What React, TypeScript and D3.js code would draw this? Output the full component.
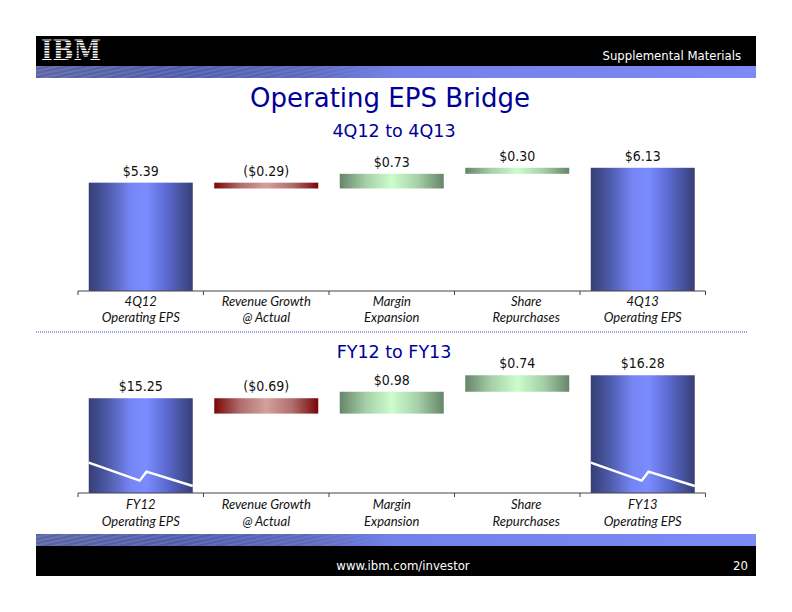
import React from "react";
import * as d3 from "d3";

const categoriesTop: string[][] = [
  ["4Q12", "Operating EPS"],
  ["Revenue Growth", "@ Actual"],
  ["Margin", "Expansion"],
  ["Share", "Repurchases"],
  ["4Q13", "Operating EPS"],
];
const categoriesBottom: string[][] = [
  ["FY12", "Operating EPS"],
  ["Revenue Growth", "@ Actual"],
  ["Margin", "Expansion"],
  ["Share", "Repurchases"],
  ["FY13", "Operating EPS"],
];
const valuesTop = [5.39, -0.29, 0.73, 0.3, 6.13];
const valuesBottom = [15.25, -0.69, 0.98, 0.74, 16.28];
const kinds = ["total", "neg", "pos", "pos", "total"];

const fmt = (v: number) => (v < 0 ? `($${Math.abs(v).toFixed(2)})` : `$${v.toFixed(2)}`);

const VALUE_FONT = "'DejaVu Sans Condensed', 'DejaVu Sans', sans-serif";
const TITLE_FONT = "'DejaVu Sans', sans-serif";
const CAT_FONT = "Lato, 'Liberation Sans', sans-serif";

type ChartProps = {
  cats: string[][];
  vals: number[];
  y: d3.ScaleLinear<number, number>;
  axisY: number;
  label1Y: number;
  label2Y: number;
  brokenAxis: boolean;
};

function Bridge({ cats, vals, y, axisY, label1Y, label2Y, brokenAxis }: ChartProps) {
  const x = d3
    .scaleBand<number>()
    .domain(d3.range(vals.length))
    .range([78, 705.5])
    .paddingInner(0.1713)
    .paddingOuter(0.0857);
  const step = x.step();
  const base = y.domain()[0];
  let running = 0;
  const bars = vals.map((v, i) => {
    let y0: number, y1: number;
    if (kinds[i] === "total") {
      y0 = base;
      y1 = v;
      running = v;
    } else {
      y0 = running;
      y1 = running + v;
      running = running + v;
    }
    const top = y(Math.max(y0, y1));
    const bottom = y(Math.min(y0, y1));
    return { i, v, top, bottom, kind: kinds[i] };
  });
  const ticks = d3.range(vals.length + 1).map((k) => 78 + k * step);
  return (
    <g>
      {bars.map((b) => {
        const x0 = x(b.i)!;
        const w = x.bandwidth();
        const fill =
          b.kind === "total" ? "url(#gBlue)" : b.kind === "neg" ? "url(#gRed)" : "url(#gGreen)";
        return (
          <g key={b.i}>
            <rect x={x0} y={b.top} width={w} height={b.bottom - b.top} fill={fill} />
            {brokenAxis && b.kind === "total" && (
              <polyline
                points={[
                  [x0, axisY - 30.3],
                  [x0 + w * 0.49, axisY - 12.3],
                  [x0 + w * 0.555, axisY - 21.3],
                  [x0 + w, axisY - 7],
                ]
                  .map((p) => p.join(","))
                  .join(" ")}
                fill="none"
                stroke="#ffffff"
                strokeWidth={2.4}
              />
            )}
            <text
              x={x0 + w / 2}
              y={b.top - 7}
              textAnchor="middle"
              fontFamily={VALUE_FONT}
              fontSize={14}
              fill="#111"
            >
              {fmt(b.v)}
            </text>
          </g>
        );
      })}
      <line x1={78} x2={705.5} y1={axisY} y2={axisY} stroke="#444" strokeWidth={1} />
      {ticks.map((t, k) => (
        <line key={k} x1={t} x2={t} y1={axisY} y2={axisY + 4} stroke="#444" strokeWidth={1} />
      ))}
      {cats.map((c, i) => {
        const cx = x(i)! + x.bandwidth() / 2 + (i === 3 ? 9 : 0);
        return (
          <text
            key={i}
            textAnchor="middle"
            fontFamily={CAT_FONT}
            fontStyle="italic"
            fontSize={13}
            fill="#111"
          >
            <tspan x={cx} y={label1Y}>
              {c[0]}
            </tspan>
            <tspan x={cx} y={label2Y}>
              {c[1]}
            </tspan>
          </text>
        );
      })}
    </g>
  );
}

function Band({ y }: { y: number }) {
  return (
    <g>
      <rect x={36} y={y} width={720} height={12} fill="url(#gBand)" />
      <rect x={36} y={y} width={720} height={12} fill="url(#pBand)" mask="url(#mBand)" />
    </g>
  );
}

export default function App() {
  const yTop = d3.scaleLinear().domain([0, 7]).range([291, 291 - 7 * 20.1]);
  const yBottom = d3.scaleLinear().domain([11, 17]).range([493, 493 - 6 * 22.3]);
  const stripes = d3.range(39.5, 61, 2.65);
  return (
    <svg
      width={792}
      height={612}
      style={{ position: "absolute", left: 0, top: 0, background: "#fff" }}
    >
      <defs>
        <linearGradient id="gBlue" x1="0" x2="1" y1="0" y2="0">
          <stop offset="0" stopColor="#363f75" />
          <stop offset="0.18" stopColor="#4d5aa8" />
          <stop offset="0.4" stopColor="#7585f5" />
          <stop offset="0.55" stopColor="#7b8cff" />
          <stop offset="0.75" stopColor="#5b6ad0" />
          <stop offset="1" stopColor="#363f75" />
        </linearGradient>
        <linearGradient id="gRed" x1="0" x2="1" y1="0" y2="0">
          <stop offset="0" stopColor="#7a0606" />
          <stop offset="0.25" stopColor="#b06e6e" />
          <stop offset="0.5" stopColor="#d4a09c" />
          <stop offset="0.75" stopColor="#b06e6e" />
          <stop offset="1" stopColor="#7a0606" />
        </linearGradient>
        <linearGradient id="gGreen" x1="0" x2="1" y1="0" y2="0">
          <stop offset="0" stopColor="#66856a" />
          <stop offset="0.25" stopColor="#a6d0a8" />
          <stop offset="0.5" stopColor="#ccfccc" />
          <stop offset="0.75" stopColor="#a6d0a8" />
          <stop offset="1" stopColor="#66856a" />
        </linearGradient>
        <linearGradient id="gBand" x1="0" x2="1" y1="0" y2="0">
          <stop offset="0" stopColor="#5a64a2" />
          <stop offset="0.2" stopColor="#4f5ba8" />
          <stop offset="0.38" stopColor="#5b69bd" />
          <stop offset="0.5" stopColor="#7382e8" />
          <stop offset="1" stopColor="#7b8af5" />
        </linearGradient>
        <pattern id="pBand" width="6" height="4" patternUnits="userSpaceOnUse" patternTransform="rotate(-12)">
          <line x1="0" y1="1" x2="6" y2="1" stroke="#aab4ee" strokeWidth="0.8" />
        </pattern>
        <linearGradient id="gMask" x1="0" x2="1" y1="0" y2="0">
          <stop offset="0" stopColor="#fff" stopOpacity="0.55" />
          <stop offset="0.4" stopColor="#fff" stopOpacity="0.4" />
          <stop offset="0.52" stopColor="#fff" stopOpacity="0" />
        </linearGradient>
        <mask id="mBand">
          <rect x={36} y={0} width={720} height={612} fill="url(#gMask)" />
        </mask>
      </defs>

      {/* Header */}
      <rect x={36} y={36} width={720} height={30} fill="#000" />
      <Band y={66} />
      <text
        x={41}
        y={60}
        fontFamily="'DejaVu Serif', serif"
        fontWeight="bold"
        fontSize={28}
        textLength={60}
        lengthAdjust="spacingAndGlyphs"
        fill="#fff"
      >
        IBM
      </text>
      {stripes.map((s, k) => (
        <rect key={k} x={39} y={s} width={64} height={1} fill="#000" />
      ))}
      <text
        x={741}
        y={60}
        textAnchor="end"
        fontFamily={VALUE_FONT}
        fontSize={13}
        fill="#fff"
      >
        Supplemental Materials
      </text>

      {/* Titles */}
      <text x={390} y={107} textAnchor="middle" fontFamily={TITLE_FONT} fontSize={26} fill="#000099">
        Operating EPS Bridge
      </text>
      <text x={394} y={137} textAnchor="middle" fontFamily={TITLE_FONT} fontSize={17.5} fill="#000099">
        4Q12 to 4Q13
      </text>

      <Bridge
        cats={categoriesTop}
        vals={valuesTop}
        y={yTop}
        axisY={291}
        label1Y={306}
        label2Y={322}
        brokenAxis={false}
      />

      <line
        x1={36}
        x2={748}
        y1={332}
        y2={332}
        stroke="#3340c8"
        strokeWidth={1}
        strokeDasharray="1,1"
      />

      <text x={394} y={358} textAnchor="middle" fontFamily={TITLE_FONT} fontSize={17.5} fill="#000099">
        FY12 to FY13
      </text>

      <Bridge
        cats={categoriesBottom}
        vals={valuesBottom}
        y={yBottom}
        axisY={493}
        label1Y={509}
        label2Y={525.5}
        brokenAxis={true}
      />

      {/* Footer */}
      <Band y={534} />
      <rect x={36} y={546} width={720} height={30} fill="#000" />
      <text x={403} y={570} textAnchor="middle" fontFamily={VALUE_FONT} fontSize={13} fill="#fff">
        www.ibm.com/investor
      </text>
      <text x={748} y={570} textAnchor="end" fontFamily={VALUE_FONT} fontSize={13} fill="#fff">
        20
      </text>
    </svg>
  );
}
